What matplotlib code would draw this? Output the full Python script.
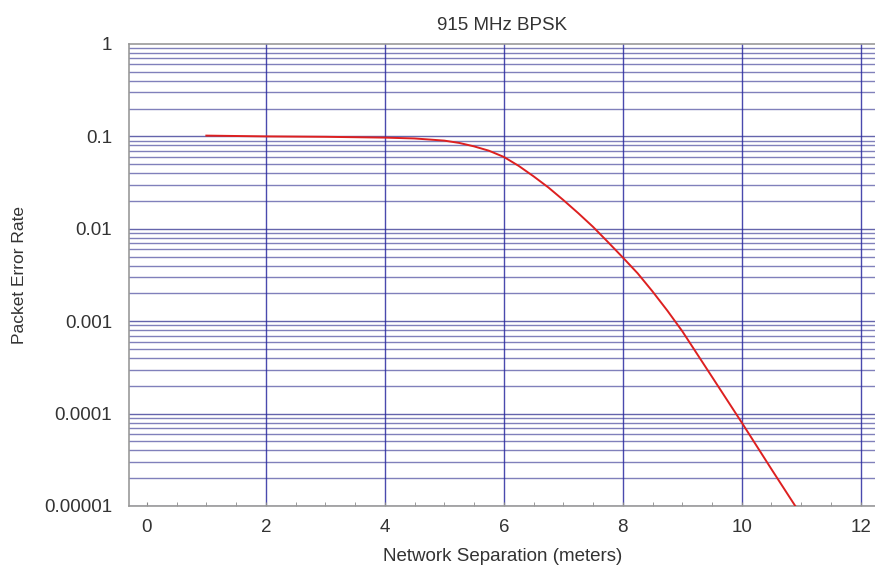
import numpy as np
import matplotlib.pyplot as plt
from matplotlib.ticker import MultipleLocator

# data
separation = [1, 2, 3, 4, 4.5, 5, 5.25, 5.5, 5.75, 6, 6.25, 6.5, 6.75, 7, 7.25, 7.5,
              7.75, 8, 8.25, 8.5, 8.75, 9, 9.5, 10, 10.5, 10.9]
per = [0.102, 0.1, 0.099, 0.097, 0.095, 0.09, 0.085, 0.078, 0.07, 0.06, 0.048, 0.037,
       0.028, 0.0205, 0.0148, 0.0105, 0.0072, 0.0049, 0.0033, 0.0021, 0.0013, 0.00078,
       0.00025, 0.00008, 0.000025, 0.00001]
y_ticks = [1, 0.1, 0.01, 0.001, 0.0001, 0.00001]
y_labels = ['1', '0.1', '0.01', '0.001', '0.0001', '0.00001']
x_ticks = [0, 2, 4, 6, 8, 10, 12]

plt.rcParams['font.family'] = ['Liberation Sans', 'DejaVu Sans']
txt = '#333333'
fs = 13.5

fig = plt.figure(figsize=(8.75, 5.69), dpi=100)
ax = fig.add_axes([129 / 875, 1 - 506 / 569, 1 - 129 / 875, (506 - 44) / 569])

ax.set_yscale('log')
ax.set_xlim(-0.3, 12.24)
ax.set_ylim(1e-5, 1)

# horizontal grid at every log step
for d in range(-5, 0):
    for m in range(1, 10):
        v = m * 10.0 ** d
        ax.axhline(v, color='#4a4a9e', lw=1.0, alpha=0.7 if m > 1 else 0.85, zorder=1)
for xv in x_ticks[1:]:
    ax.axvline(xv, color='#2a2aa0', lw=1.0, alpha=0.85, zorder=1)

ax.plot(separation, per, color='#dd2020', lw=1.4, zorder=3)

ax.set_xticks(x_ticks)
ax.xaxis.set_minor_locator(MultipleLocator(0.5))
ax.set_yticks(y_ticks)
ax.set_yticklabels(y_labels)
ax.yaxis.set_minor_locator(plt.NullLocator())
ax.tick_params(axis='x', which='both', direction='in', length=3, color='#888888',
               labelsize=fs, labelcolor=txt, pad=9)
ax.tick_params(axis='y', which='both', length=0, labelsize=fs, labelcolor=txt, pad=12)

for s in ['left', 'bottom', 'top']:
    ax.spines[s].set_color('#999999')
    ax.spines[s].set_linewidth(1.2)
ax.spines['right'].set_visible(False)

ax.set_title('915 MHz BPSK', fontsize=fs, color=txt, pad=10)
ax.set_xlabel('Network Separation (meters)', fontsize=fs, color=txt)
ax.xaxis.set_label_coords((503 - 129) / 746, -0.09)
ax.set_ylabel('Packet Error Rate', fontsize=12.5, color=txt)
ax.yaxis.set_label_coords(-(129 - 27) / 746, 0.5)

fig.savefig('out.png', dpi=100)
